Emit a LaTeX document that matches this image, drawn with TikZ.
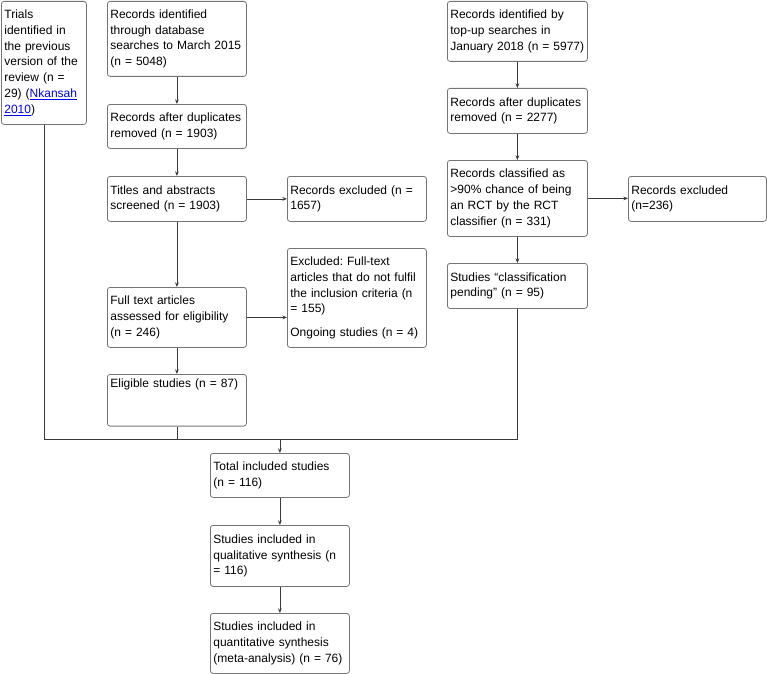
\documentclass[tikz,border=0pt]{standalone}
\usepackage{fontspec}
\setmainfont{Liberation Sans}
\usepackage{xcolor}
\usepackage{tikz}
\usetikzlibrary{arrows.meta,positioning}
\definecolor{BoxGray}{HTML}{747474}
\definecolor{Wire}{HTML}{3A3A3A}
\definecolor{LinkBlue}{HTML}{0000EE}
\newlength\pxu
\setlength\pxu{0.75pt}
\newcommand\lnk[1]{\textcolor{LinkBlue}{\underline{#1}}}
\frenchspacing

\begin{document}
\begin{tikzpicture}[x=\pxu,y=-\pxu,font=\fontsize{9}{11.8}\selectfont,
    box/.style={draw=BoxGray,rounded corners=2pt,anchor=north west,align=left,
      inner xsep=3\pxu,inner ysep=4\pxu,minimum width=139\pxu,text width=133\pxu,
      line width=0.6pt},
    arr/.style={->,Wire,line width=0.6pt},
    >={Stealth[length=3.5pt,width=2.8pt]}]
  \useasboundingbox (0,0) rectangle (767,674);
  % left column
  \node[box,minimum width=85\pxu,text width=79\pxu,minimum height=123\pxu] (Prev) at (1,1)
    {Trials\\identified in\\the previous\\version of the\\review (n =\\29) (\lnk{Nkansah}\\\lnk{2010})};
  \node[box,minimum height=75\pxu] (DB) at (107,1)
    {Records identified\\through database\\searches to March 2015\\(n = 5048)};
  \node[box,minimum height=44\pxu] (DupA) at (107,104)
    {Records after duplicates\\removed (n = 1903)};
  \node[box,minimum height=45\pxu] (Scr) at (107,176)
    {Titles and abstracts\\screened (n = 1903)};
  \node[box,minimum height=45\pxu] (ExA) at (287,176)
    {Records excluded (n =\\1657)};
  \node[box,minimum height=60\pxu] (FT) at (107,287)
    {Full text articles\\assessed for eligibility\\(n = 246)};
  \node[box,minimum height=99\pxu] (ExB) at (287,248)
    {Excluded: Full-text\\articles that do not fulfil\\the inclusion criteria (n\\= 155)\\[6pt]Ongoing studies (n = 4)};
  \node[box,text depth=35\pxu] (Elig) at (107,374)
    {Eligible studies (n = 87)};
  % right column
  \node[box,minimum width=140\pxu,text width=134\pxu,minimum height=60\pxu] (Top) at (447,1)
    {Records identified by\\top-up searches in\\January 2018 (n = 5977)};
  \node[box,minimum width=140\pxu,text width=134\pxu,minimum height=45\pxu] (DupB) at (447,88)
    {Records after duplicates\\removed (n = 2277)};
  \node[box,minimum width=140\pxu,text width=134\pxu,minimum height=76\pxu] (Cls) at (447,160)
    {Records classified as\\\textgreater90\% chance of being\\an RCT by the RCT\\classifier (n = 331)};
  \node[box,minimum width=138\pxu,text width=132\pxu,minimum height=45\pxu] (ExC) at (628,176)
    {Records excluded\\(n=236)};
  \node[box,minimum width=140\pxu,text width=134\pxu,minimum height=45\pxu] (Pend) at (447,263)
    {Studies “classification\\pending" (n = 95)};
  % included
  \node[box,minimum height=44\pxu] (Tot) at (210,453)
    {Total included studies\\(n = 116)};
  \node[box,minimum height=61\pxu] (Qual) at (210,525)
    {Studies included in\\qualitative synthesis (n\\= 116)};
  \node[box,minimum height=60\pxu] (Quant) at (210,613)
    {Studies included in\\quantitative synthesis\\(meta-analysis) (n = 76)};
  \coordinate (MrgY) at (0,439);
  \draw[arr] (DB) -- (DupA);
  \draw[arr] (DupA) -- (Scr);
  \draw[arr] (Scr) -- (ExA);
  \draw[arr] (Scr) -- (FT);
  \draw[arr] (FT.east) -- (FT.east -| ExB.west);
  \draw[arr] (FT) -- (Elig);
  \draw[arr] (Top) -- (DupB);
  \draw[arr] (DupB) -- (Cls);
  \draw[arr] (Cls.east) -- (Cls.east -| ExC.west);
  \draw[arr] (Cls) -- (Pend);
  \draw[Wire,line width=0.6pt] (Prev) -- (Prev |- MrgY) -- (Pend |- MrgY) -- (Pend);
  \draw[Wire,line width=0.6pt] (Elig) -- (Elig |- MrgY);
  \draw[arr] (Tot |- MrgY) -- (Tot);
  \draw[arr] (Tot) -- (Qual);
  \draw[arr] (Qual) -- (Quant);
\end{tikzpicture}
\end{document}
